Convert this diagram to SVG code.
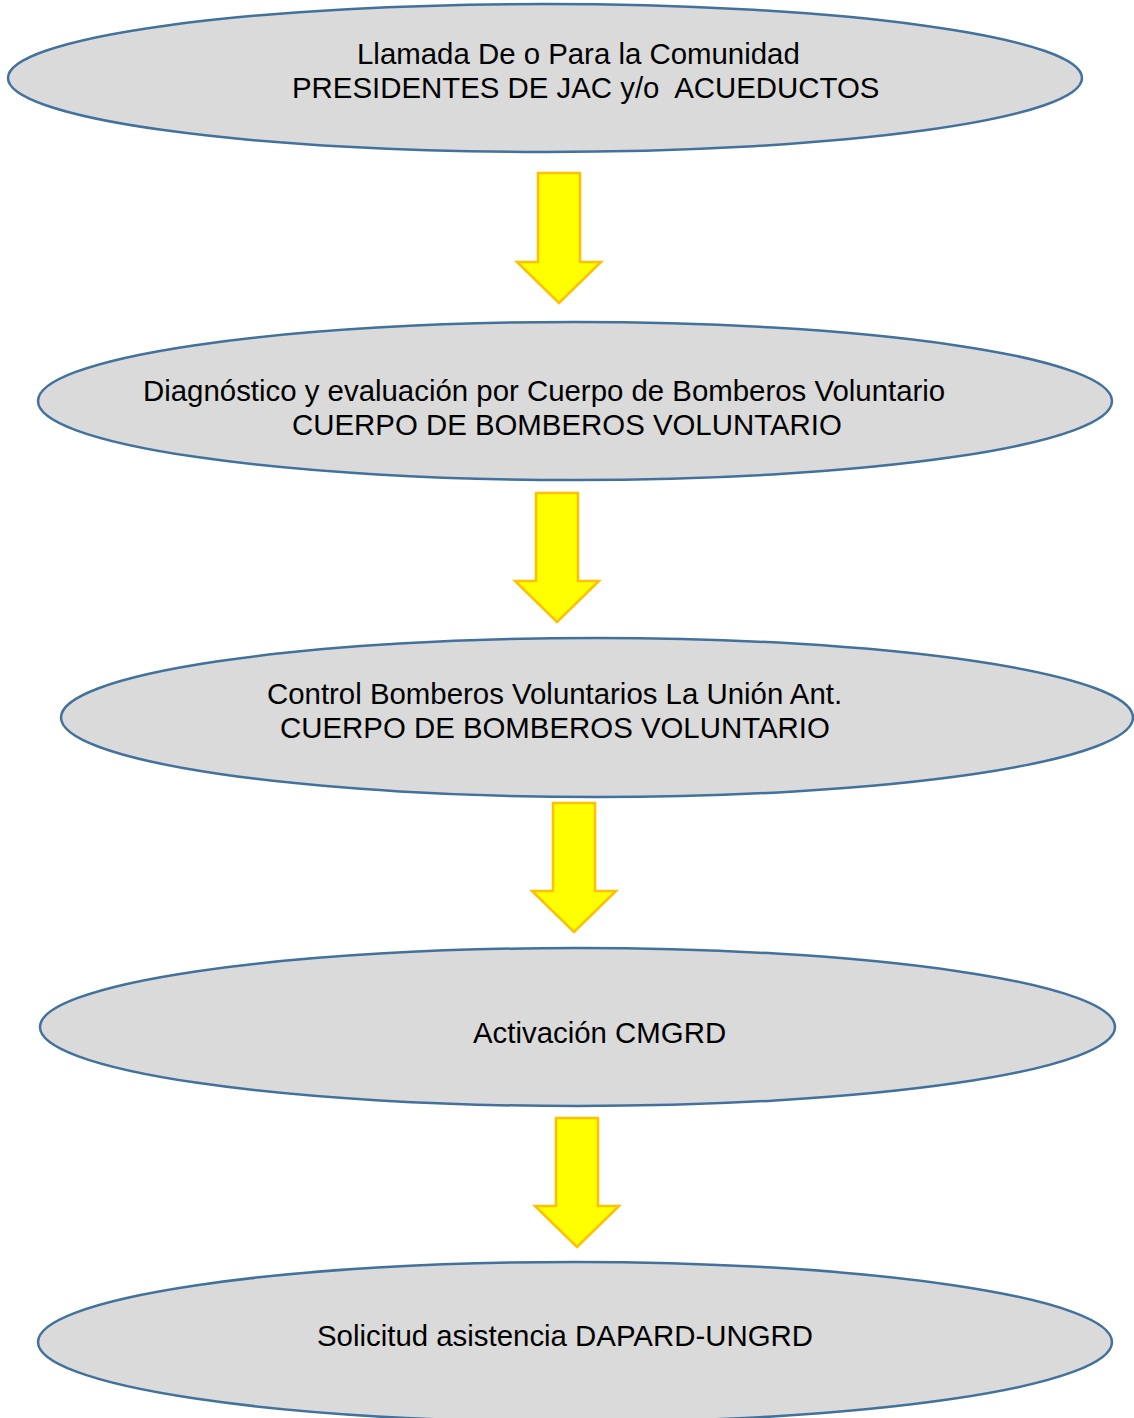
<svg xmlns="http://www.w3.org/2000/svg" width="1134" height="1418" viewBox="0 0 1134 1418">
<style>
.node ellipse{fill:#dadada;stroke:#41719c;stroke-width:2.5}
.node text{font-family:"Liberation Sans",Arial,sans-serif;font-size:29.4px;fill:#000}
.arrow{fill:#ffff00;stroke:#ffc000;stroke-width:2.5;stroke-linejoin:miter}
</style>
<rect width="1134" height="1418" fill="#fff"/>
<g id="connectors">
<path class="arrow" d="M538,173 H580 V262 H601 L559,303 L517,262 H538 Z"/>
<path class="arrow" d="M536,493 H578 V581 H599 L557,622 L515,581 H536 Z"/>
<path class="arrow" d="M553,803 H595 V891 H616 L574,932 L532,891 H553 Z"/>
<path class="arrow" d="M556,1118 H598 V1206 H619 L577,1247 L535,1206 H556 Z"/>
</g>
<g id="node1" class="node">
<ellipse cx="545" cy="78" rx="537" ry="74"/>
<text x="357" y="64">Llamada De o Para la Comunidad</text>
<text x="292" y="98" xml:space="preserve">PRESIDENTES DE JAC y/o  ACUEDUCTOS</text>
</g>
<g id="node2" class="node">
<ellipse cx="575" cy="401" rx="537" ry="79"/>
<text x="143" y="401">Diagnóstico y evaluación por Cuerpo de Bomberos Voluntario</text>
<text x="292" y="435">CUERPO DE BOMBEROS VOLUNTARIO</text>
</g>
<g id="node3" class="node">
<ellipse cx="597" cy="717.5" rx="536" ry="79.5"/>
<text x="267" y="704">Control Bomberos Voluntarios La Unión Ant.</text>
<text x="280" y="738">CUERPO DE BOMBEROS VOLUNTARIO</text>
</g>
<g id="node4" class="node">
<ellipse cx="577.5" cy="1027" rx="537.5" ry="79"/>
<text x="473" y="1043">Activación CMGRD</text>
</g>
<g id="node5" class="node">
<ellipse cx="575" cy="1342" rx="537" ry="80"/>
<text x="317" y="1346">Solicitud asistencia DAPARD-UNGRD</text>
</g>
</svg>
